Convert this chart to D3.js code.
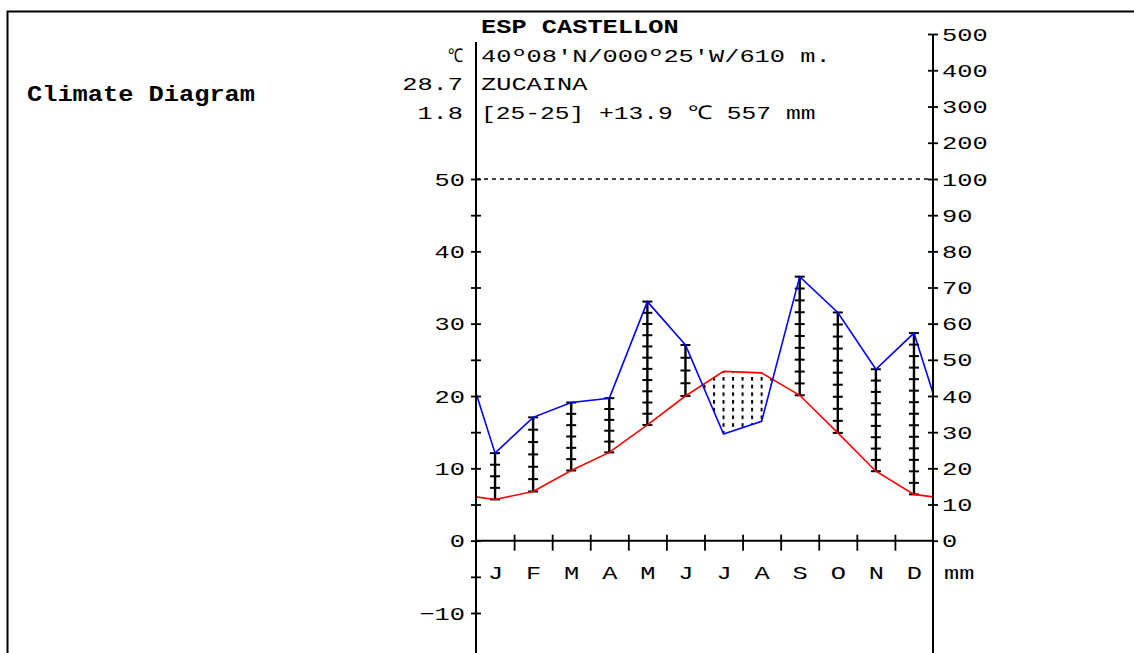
<!DOCTYPE html>
<html>
<head>
<meta charset="utf-8">
<script src="https://cdn.jsdelivr.net/npm/d3@7"></script>
<style>
  html, body { margin: 0; padding: 0; background: #fff; }
  svg { display: block; }
</style>
</head>
<body>
<script>
// Monthly climate normals, Zucaina (Castellón)
const months = ["J", "F", "M", "A", "M", "J", "J", "A", "S", "O", "N", "D"];
const temperature = [5.7, 6.8, 9.7, 12.2, 16.0, 20.0, 23.4, 23.2, 20.1, 14.9, 9.6, 6.4];      // °C
const precipitation = [24.2, 34.1, 38.2, 39.4, 66.1, 54.1, 29.5, 33.0, 73.0, 63.1, 47.4, 57.4]; // mm

const tempTicks = [-10, -5, 0, 5, 10, 15, 20, 25, 30, 35, 40, 45, 50];
const tempLabels = [-10, 0, 10, 20, 30, 40, 50];
const precipTicks = [0, 10, 20, 30, 40, 50, 60, 70, 80, 90, 100, 200, 300, 400, 500];

const title = "Climate Diagram";
const headerLines = ["ESP CASTELLON", "40º08'N/000º25'W/610 m.", "ZUCAINA", "[25-25] +13.9 ℃ 557 mm"];
const sideLines = ["", "℃", "28.7", "1.8"];

const W = 1134, H = 653;
const CHAR_W = 15.2;
const FONT = "'Liberation Mono', 'DejaVu Sans Mono', monospace";

const svg = d3.select("body").append("svg")
  .attr("width", W).attr("height", H)
  .attr("viewBox", `0 0 ${W} ${H}`);

// scales
const x = d3.scaleLinear().domain([0, 12]).range([476, 933]);
const yT = d3.scaleLinear().domain([-10, 50]).range([613, 179]);
const yP = d3.scaleLinear().domain([0, 100, 500]).range([yT(0), yT(50), 34]);

// stretch monospace text to the wide character cell
function cell(sel) {
  sel.each(function () {
    const t = d3.select(this);
    const n = [...t.text()].length;
    if (n > 0) t.attr("textLength", n * CHAR_W).attr("lengthAdjust", "spacingAndGlyphs");
  });
  return sel;
}

// frame
svg.append("path")
  .attr("d", `M7.5,${H} V11.5 H${W}`)
  .attr("fill", "none").attr("stroke", "#000").attr("stroke-width", 2);

// header texts
svg.append("text").text(title)
  .attr("x", 27).attr("y", 101)
  .attr("font-family", FONT).attr("font-size", 22).attr("font-weight", "bold")
  .call(cell);

const lineY = [33, 62, 90, 119];
headerLines.forEach((s, i) => {
  svg.append("text").text(s)
    .attr("x", 481).attr("y", lineY[i])
    .attr("font-family", FONT).attr("font-size", i === 0 ? 21 : 19)
    .attr("font-weight", i === 0 ? "bold" : "normal")
    .call(cell);
});
sideLines.forEach((s, i) => {
  if (!s) return;
  svg.append("text").text(s)
    .attr("x", 463).attr("y", lineY[i])
    .attr("text-anchor", "end")
    .attr("font-family", FONT).attr("font-size", 19)
    .call(cell);
});

// data paths: curve closes on the Dec/Jan mean at both edges
const tEdge = (temperature[0] + temperature[11]) / 2;
const pEdge = (precipitation[0] + precipitation[11]) / 2;
const pts = [{ m: 0, t: tEdge, p: pEdge }]
  .concat(months.map((_, i) => ({ m: i + 0.5, t: temperature[i], p: precipitation[i] })))
  .concat([{ m: 12, t: tEdge, p: pEdge }]);

const tempLine = d3.line().x(d => x(d.m)).y(d => yT(d.t));
const precLine = d3.line().x(d => x(d.m)).y(d => yP(d.p));

// arid period: dotted fill where the temperature curve lies above precipitation
const defs = svg.append("defs");
const colW = (x(1) - x(0)) / 4;
const pat = defs.append("pattern")
  .attr("id", "arid").attr("patternUnits", "userSpaceOnUse")
  .attr("x", x(0.5) - 1).attr("y", 377)
  .attr("width", colW).attr("height", 7.7);
pat.append("rect").attr("x", 0).attr("y", 0).attr("width", 2).attr("height", 3.6).attr("fill", "#000");

defs.append("clipPath").attr("id", "belowTemp")
  .append("path")
  .attr("d", d3.area().x(d => x(d.m)).y0(H).y1(d => yT(d.t))(pts));
defs.append("clipPath").attr("id", "abovePrec")
  .append("path")
  .attr("d", d3.area().x(d => x(d.m)).y0(0).y1(d => yP(d.p))(pts));

svg.append("g").attr("clip-path", "url(#belowTemp)")
  .append("g").attr("clip-path", "url(#abovePrec)")
  .append("rect")
  .attr("x", x(0)).attr("y", yT(50)).attr("width", x(12) - x(0)).attr("height", yT(0) - yT(50))
  .attr("fill", "url(#arid)");

// humid months: vertical hatching with cross ticks
const hatch = svg.append("g").attr("stroke", "#000");
months.forEach((_, i) => {
  const cx = x(i + 0.5);
  const top = yP(precipitation[i]);
  const bot = yT(temperature[i]);
  if (top >= bot) return;
  hatch.append("line")
    .attr("x1", cx).attr("x2", cx).attr("y1", top).attr("y2", bot)
    .attr("stroke-width", 2.4);
  const len = bot - top;
  const n = Math.max(1, Math.round(len / 11.5));
  d3.range(n + 1).forEach(k => {
    const yy = top + (k * len) / n;
    hatch.append("line")
      .attr("x1", cx - 5).attr("x2", cx + 5).attr("y1", yy).attr("y2", yy)
      .attr("stroke-width", 2);
  });
});

// reference line at 50 °C / 100 mm
svg.append("line")
  .attr("x1", x(0)).attr("x2", x(12)).attr("y1", yT(50)).attr("y2", yT(50))
  .attr("stroke", "#000").attr("stroke-width", 1.6).attr("stroke-dasharray", "4,4");

// curves
svg.append("path").attr("d", tempLine(pts))
  .attr("fill", "none").attr("stroke", "#ff0000").attr("stroke-width", 1.6);
svg.append("path").attr("d", precLine(pts))
  .attr("fill", "none").attr("stroke", "#0000ff").attr("stroke-width", 1.6);

// axis styling helper
function styleAxis(g, size) {
  g.select(".domain").remove();
  g.selectAll(".tick line").attr("stroke", "#000").attr("stroke-width", 1.8);
  g.selectAll("text")
    .attr("font-family", FONT).attr("font-size", size).attr("fill", "#000")
    .call(cell);
}

// left (temperature) axis
svg.append("line").attr("x1", x(0)).attr("x2", x(0)).attr("y1", 42).attr("y2", H)
  .attr("stroke", "#000").attr("stroke-width", 2);
svg.append("g").attr("transform", `translate(${x(0)},0)`)
  .call(d3.axisLeft(yT).tickValues(tempTicks).tickSize(5).tickPadding(6)
    .tickFormat(d => tempLabels.includes(d) ? String(d).replace("-", "−") : ""))
  .call(g => styleAxis(g, 19));
svg.append("g").attr("transform", `translate(${x(0)},0)`)
  .call(d3.axisRight(yT).tickValues(tempTicks).tickSize(5).tickFormat(""))
  .call(g => styleAxis(g, 19));

// right (precipitation) axis
svg.append("line").attr("x1", x(12)).attr("x2", x(12)).attr("y1", yP(500)).attr("y2", H)
  .attr("stroke", "#000").attr("stroke-width", 2);
svg.append("g").attr("transform", `translate(${x(12)},0)`)
  .call(d3.axisRight(yP).tickValues(precipTicks).tickSize(5).tickPadding(4).tickFormat(d3.format("d")))
  .call(g => styleAxis(g, 19));
svg.append("g").attr("transform", `translate(${x(12)},0)`)
  .call(d3.axisLeft(yP).tickValues(precipTicks.filter(d => d > 0)).tickSize(5).tickFormat(""))
  .call(g => styleAxis(g, 19));

// month axis
svg.append("line").attr("x1", x(0)).attr("x2", x(12)).attr("y1", yT(0)).attr("y2", yT(0))
  .attr("stroke", "#000").attr("stroke-width", 2);
const bounds = d3.range(1, 12);
svg.append("g").attr("transform", `translate(0,${yT(0)})`)
  .call(d3.axisBottom(x).tickValues(bounds).tickSize(10).tickFormat(""))
  .call(g => styleAxis(g, 19));
svg.append("g").attr("transform", `translate(0,${yT(0)})`)
  .call(d3.axisTop(x).tickValues(bounds).tickSize(6).tickFormat(""))
  .call(g => styleAxis(g, 19));
svg.append("g").attr("transform", `translate(0,${yT(0)})`)
  .call(d3.axisBottom(x).tickValues(months.map((_, i) => i + 0.5)).tickSize(0).tickPadding(25)
    .tickFormat((d, i) => months[i]))
  .call(g => styleAxis(g, 19));

svg.append("text").text("mm")
  .attr("x", 944).attr("y", 579)
  .attr("font-family", FONT).attr("font-size", 19)
  .call(cell);
</script>
</body>
</html>
